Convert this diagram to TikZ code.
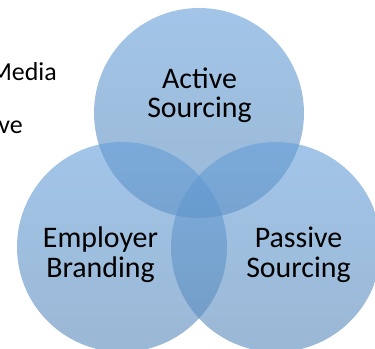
\documentclass[tikz,border=0pt]{standalone}
\usepackage{fontspec}
\setmainfont{Carlito}
\definecolor{ctop}{RGB}{100,158,217}
\definecolor{cbot}{RGB}{88,136,185}
\tikzset{
  vcirc/.style={circle, minimum size=210bp, inner sep=0pt, top color=ctop, bottom color=cbot, fill opacity=0.6, draw=none},
  lbl/.style={inner sep=0pt, anchor=base, font=\fontsize{30}{29}\selectfont, text=black},
  side/.style={inner sep=0pt, anchor=base east, font=\fontsize{26}{28}\selectfont, text=black}
}
\begin{document}
\begin{tikzpicture}[x=1bp,y=1bp]
\useasboundingbox (0,0) rectangle (375,349);
\node[vcirc] (act) at (199,236) {};
\node[vcirc] (emp) at (122,102) {};
\node[vcirc] (pas) at (276,102) {};
\node[lbl] (a1) at (199.5,261) {Active};
\node[lbl] (a2) at (199.5,232) {Sourcing};
\node[lbl] (e1) at (100.5,102) {Employer};
\node[lbl] (e2) at (100.5,72) {Branding};
\node[lbl] (p1) at (298.5,102) {Passive};
\node[lbl] (p2) at (298.5,72) {Sourcing};
\node[side] (m1) at (57,269) {Media};
\node[side] (m2) at (23,216) {ve};
\end{tikzpicture}
\end{document}
